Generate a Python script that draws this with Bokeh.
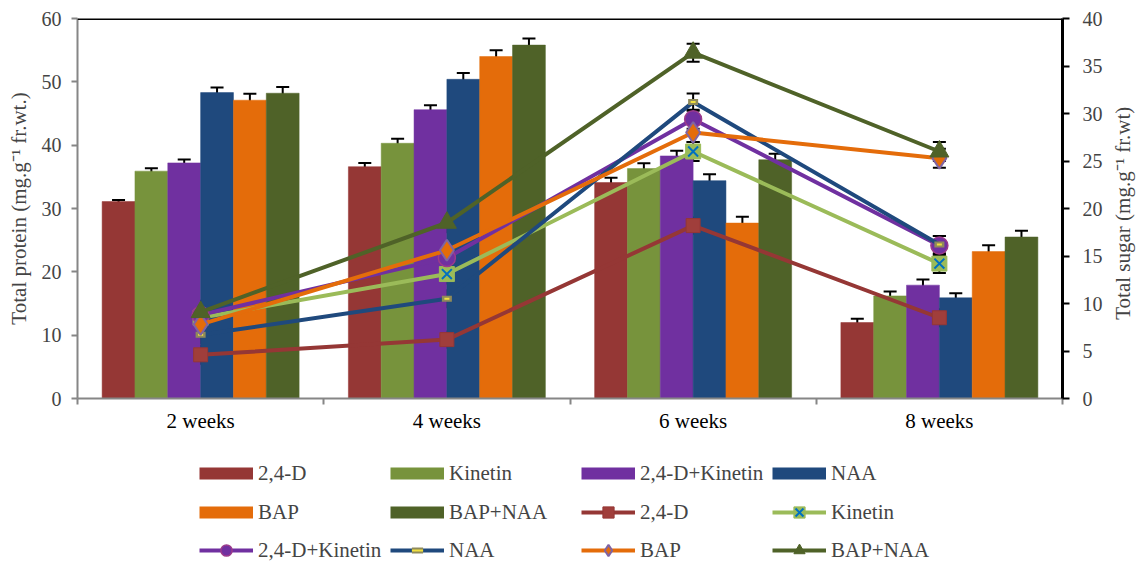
import math
from bokeh.plotting import figure
from bokeh.layouts import column
from bokeh.models import (ColumnDataSource, Range1d, LinearAxis, FixedTicker, Whisker,
                          TeeHead, Legend, LegendItem, Span)
from bokeh.embed import file_html
from bokeh.resources import INLINE

# ---------------- data ----------------
weeks = ["2 weeks", "4 weeks", "6 weeks", "8 weeks"]
treatments = ["2,4-D", "Kinetin", "2,4-D+Kinetin", "NAA", "BAP", "BAP+NAA"]

# Total protein (bars, left axis)
protein_24d = [31.1, 36.6, 34.1, 12.0]
protein_kin = [35.9, 40.3, 36.3, 16.2]
protein_24dk = [37.2, 45.6, 38.3, 17.9]
protein_naa = [48.3, 50.4, 34.4, 15.9]
protein_bap = [47.1, 54.0, 27.7, 23.2]
protein_bapnaa = [48.2, 55.8, 37.7, 25.5]

protein_err_24d = [0.25, 0.6, 0.75, 0.6]
protein_err_kin = [0.45, 0.7, 0.85, 0.7]
protein_err_24dk = [0.55, 0.7, 0.8, 0.9]
protein_err_naa = [0.8, 1.0, 1.0, 0.7]
protein_err_bap = [1.0, 1.0, 1.0, 1.0]
protein_err_bapnaa = [1.0, 1.05, 0.95, 1.0]

# Total sugar (lines, right axis)
sugar_24d = [4.6, 6.2, 18.2, 8.5]
sugar_kin = [8.5, 13.1, 26.0, 14.2]
sugar_24dk = [8.8, 14.8, 29.4, 16.1]
sugar_naa = [6.7, 10.5, 31.2, 16.2]
sugar_bap = [7.8, 15.6, 28.0, 25.3]
sugar_bapnaa = [9.1, 18.5, 36.4, 26.0]

sugar_err_24d = [0.95, 0.85, 0.85, 0.9]
sugar_err_kin = [1.0, 1.0, 1.0, 1.0]
sugar_err_24dk = [1.0, 1.0, 1.0, 1.0]
sugar_err_naa = [0.9, 0.9, 0.9, 0.9]
sugar_err_bap = [1.0, 1.0, 1.0, 1.0]
sugar_err_bapnaa = [1.2, 1.0, 0.95, 1.0]

bar_colors = ["#953735", "#77933C", "#7030A0", "#1F497D", "#E46C0A", "#4F6228"]
line_colors = ["#953735", "#9BBB59", "#7030A0", "#1F497D", "#E46C0A", "#4F6228"]

protein = [protein_24d, protein_kin, protein_24dk, protein_naa, protein_bap, protein_bapnaa]
protein_err = [protein_err_24d, protein_err_kin, protein_err_24dk, protein_err_naa,
               protein_err_bap, protein_err_bapnaa]
sugar = [sugar_24d, sugar_kin, sugar_24dk, sugar_naa, sugar_bap, sugar_bapnaa]
sugar_err = [sugar_err_24d, sugar_err_kin, sugar_err_24dk, sugar_err_naa,
             sugar_err_bap, sugar_err_bapnaa]

FONT = "Liberation Serif"
GRAY = "#868686"

p = figure(frame_width=985, frame_height=380, x_range=Range1d(0, len(weeks)),
           y_range=Range1d(0, 60), output_backend="svg", toolbar_location=None,
           min_border_left=77, min_border_right=0, min_border_top=18, min_border_bottom=50)
p.extra_y_ranges = {"sugar": Range1d(0, 40)}
p.outline_line_color = None
p.xgrid.visible = False
p.ygrid.visible = False

# legend-holder figure (below the chart); its ranges keep its own copies of the
# glyphs out of view so only the legend shows
q = figure(frame_width=985, frame_height=114, x_range=Range1d(100, 101),
           y_range=Range1d(100, 101), output_backend="svg", toolbar_location=None,
           x_axis_type=None, y_axis_type=None,
           min_border_left=77, min_border_right=0, min_border_top=0, min_border_bottom=0)
q.outline_line_color = None

n = len(treatments)
group_w = 0.8
bw = group_w / n

bar_sources = []
for k, (vals, errs) in enumerate(zip(protein, protein_err)):
    xs = [i + 0.5 - group_w / 2 + (k + 0.5) * bw for i in range(len(weeks))]
    src = ColumnDataSource(dict(x=xs, top=vals,
                                upper=[v + e for v, e in zip(vals, errs)],
                                lower=[v - e for v, e in zip(vals, errs)]))
    bar_sources.append(src)
    p.vbar(x="x", top="top", width=bw, source=src, fill_color=bar_colors[k],
           line_color=bar_colors[k], line_width=0.5)
    w = Whisker(base="x", upper="upper", lower="lower", source=src, dimension="height",
                line_color="black", line_width=2,
                upper_head=TeeHead(size=13, line_width=2, line_color="black"),
                lower_head=TeeHead(size=13, line_width=2, line_color="black"))
    p.add_layout(w)

xc = [i + 0.5 for i in range(len(weeks))]


def draw_series(fig, k, src, **kw):
    col = line_colors[k]
    rs = [fig.line("x", "y", source=src, line_color=col, line_width=4, **kw)]
    if k == 0:
        rs.append(fig.scatter("x", "y", source=src, marker="square", size=14,
                              fill_color="#A03E3B", line_color="#953735", **kw))
    elif k == 1:
        rs.append(fig.scatter("x", "y", source=src, marker="square", size=15,
                              fill_color="#9BBB59", line_color="#9BBB59", **kw))
        rs.append(fig.scatter("x", "y", source=src, marker="x", size=14,
                              line_color="#0070C0", line_width=2, **kw))
    elif k == 2:
        rs.append(fig.scatter("x", "y", source=src, marker="circle", size=17,
                              fill_color="#7030A0", line_color="#9B3A8C", line_width=1.5, **kw))
    elif k == 3:
        rs.append(fig.scatter("x", "y", source=src, marker="dash", size=10,
                              line_color="#8F8A5A", line_width=6, **kw))
        rs.append(fig.scatter("x", "y", source=src, marker="dash", size=5,
                              line_color="#F0E040", line_width=2, **kw))
    elif k == 4:
        rs.append(fig.scatter("x", "y", source=src, marker="diamond", size=21,
                              fill_color="#E46C0A", line_color="#8064A2", line_width=2, **kw))
    else:
        rs.append(fig.scatter("x", "y", source=src, marker="triangle", size=19,
                              fill_color="#4F6228", line_color="#4F6228", **kw))
    return rs


line_sources = []
for k, (vals, errs) in enumerate(zip(sugar, sugar_err)):
    src = ColumnDataSource(dict(x=xc, y=vals,
                                upper=[v + e for v, e in zip(vals, errs)],
                                lower=[v - e for v, e in zip(vals, errs)]))
    line_sources.append(src)
    draw_series(p, k, src, y_range_name="sugar")
    w = Whisker(base="x", upper="upper", lower="lower", source=src, dimension="height",
                y_range_name="sugar", line_color="black", line_width=2,
                upper_head=TeeHead(size=13, line_width=2, line_color="black"),
                lower_head=TeeHead(size=13, line_width=2, line_color="black"))
    p.add_layout(w)

# top border
p.add_layout(Span(location=60, dimension="width", line_color="black", line_width=3))

# x axis
xa = p.xaxis[0]
xa.ticker = FixedTicker(ticks=xc, minor_ticks=list(range(len(weeks) + 1)))
xa.major_label_overrides = {x: w for x, w in zip(xc, weeks)}
xa.major_tick_out = 0
xa.major_tick_in = 0
xa.minor_tick_out = 6
xa.minor_tick_in = 0
xa.minor_tick_line_color = GRAY
xa.minor_tick_line_width = 2
xa.axis_line_color = GRAY
xa.axis_line_width = 2
xa.major_label_standoff = 4
xa.major_label_text_font = FONT
xa.major_label_text_font_size = "21px"
xa.major_label_text_color = "black"

# left axis
ya = p.yaxis[0]
ya.ticker = FixedTicker(ticks=list(range(0, 61, 10)))
ya.axis_label = "Total protein (mg.g\u207b\u00b9 fr.wt.)"
ya.axis_label_text_font = FONT
ya.axis_label_text_font_size = "21px"
ya.axis_label_text_font_style = "normal"
ya.axis_label_standoff = 8
ya.major_label_text_font = FONT
ya.major_label_text_font_size = "20px"
ya.major_label_standoff = 10
ya.axis_line_color = GRAY
ya.axis_line_width = 2
ya.major_tick_line_color = GRAY
ya.major_tick_line_width = 2
ya.major_tick_out = 6
ya.major_tick_in = 0
ya.minor_tick_line_color = None

# right axis
sugar_label = "Total sugar (mg.g\u207b\u00b9 fr.wt)"
ra = LinearAxis(y_range_name="sugar", ticker=FixedTicker(ticks=list(range(0, 41, 5))),
                axis_label=sugar_label)
ra.axis_label_text_font = FONT
ra.axis_label_text_font_size = "21px"
ra.axis_label_text_font_style = "normal"
ra.axis_label_standoff = 8
ra.major_label_text_font = FONT
ra.major_label_text_font_size = "20px"
ra.major_label_standoff = 13
ra.axis_line_color = "black"
ra.axis_line_width = 3
ra.major_tick_line_color = "black"
ra.major_tick_line_width = 2
ra.major_tick_out = 7
ra.major_tick_in = 0
ra.minor_tick_line_color = None
props = ra.properties()
if "axis_label_orientation" in props and "axis_label_align" in props:
    # read bottom-to-top like the reference, anchored low and padded up to centre
    ra.axis_label_orientation = math.pi / 2
    ra.axis_label_align = "start"
    ra.axis_label = "\u00a0" * 15 + sugar_label
    ra.axis_label_standoff = 17
p.add_layout(ra, "right")

# ---------------- legend ----------------
# bar keys as thick flat strokes, line keys with their markers
q_bars = [q.line(x="x", y="top", source=bar_sources[k], line_color=bar_colors[k],
                 line_width=12, line_cap="butt") for k in range(n)]
q_lines = [draw_series(q, k, line_sources[k]) for k in range(n)]

PITCH = 191
X0 = 122
GW, GS, LW, GH = 54, 5, 126, 28


def add_legend(entries, x, y):
    leg = Legend(items=[LegendItem(label=t, renderers=r) for t, r in entries],
                 orientation="horizontal", location=(x, y),
                 glyph_width=GW, glyph_height=GH, label_standoff=GS, label_width=LW,
                 label_height=GH, spacing=PITCH - GW - GS - LW, padding=0, margin=0,
                 border_line_color=None, background_fill_alpha=0,
                 label_text_font=FONT, label_text_font_size="21px")
    q.add_layout(leg, "center")


entries = [(treatments[k], [q_bars[k]]) for k in range(n)]
entries += [(treatments[k], q_lines[k]) for k in range(n)]
add_legend(entries[0:4], X0, 75)
add_legend(entries[4:8], X0, 36)
add_legend(entries[8:12], X0, -2)

layout = column(p, q, spacing=0)
open("out.html", "w").write(file_html(layout, INLINE))
